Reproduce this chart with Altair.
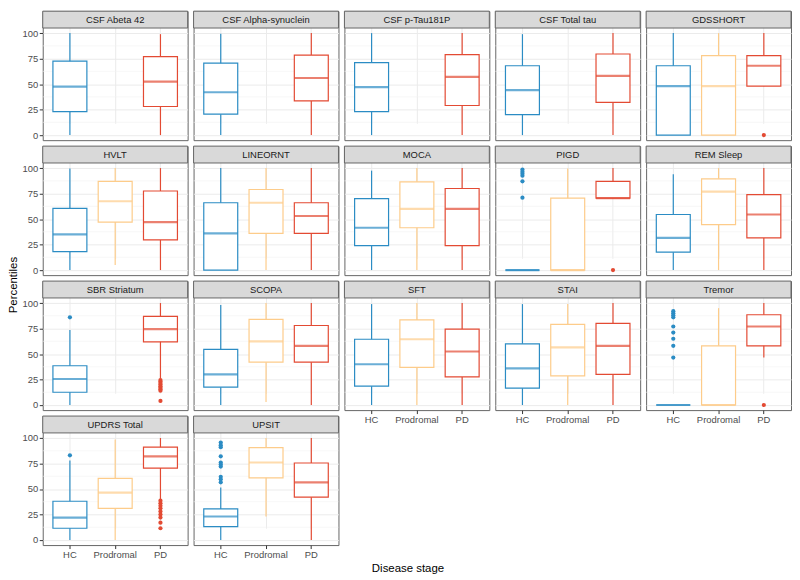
import altair as alt
import pandas as pd

panels = ["CSF Abeta 42", "CSF Alpha-synuclein", "CSF p-Tau181P", "CSF Total tau", "GDSSHORT",
          "HVLT", "LINEORNT", "MOCA", "PIGD", "REM Sleep",
          "SBR Striatum", "SCOPA", "SFT", "STAI", "Tremor",
          "UPDRS Total", "UPSIT"]
groups = ["HC", "Prodromal", "PD"]
colors = ["#2b8cc4", "#fdcc8a", "#e34a33"]

# (lower whisker, Q1, median, Q3, upper whisker)
hc_stats = {
    "CSF Abeta 42": (0, 23, 47.5, 72.5, 100),
    "CSF Alpha-synuclein": (0, 20.5, 42, 70.5, 99.5),
    "CSF p-Tau181P": (0, 23, 47, 71, 100),
    "CSF Total tau": (0, 20, 44, 68, 99),
    "GDSSHORT": (0, 0, 48, 68, 100),
    "HVLT": (0, 18, 35, 60.5, 99.5),
    "LINEORNT": (0, 0, 36, 66, 100),
    "MOCA": (0, 24, 41.5, 70, 97.5),
    "PIGD": (0, 0, 0, 0, 0),
    "REM Sleep": (0, 17.5, 31.5, 54.5, 94),
    "SBR Striatum": (0, 12.5, 25.5, 38.5, 73.5),
    "SCOPA": (0, 17.5, 30, 54.5, 98),
    "SFT": (0, 18.5, 40, 64.5, 99),
    "STAI": (0, 16.5, 36, 60, 99),
    "Tremor": (0, 0, 0, 0, 0),
    "UPDRS Total": (0, 11.5, 22, 38, 78),
    "UPSIT": (0, 13, 23, 30.5, 51.5),
}
prodromal_stats = {
    "GDSSHORT": (0, 0, 48, 78, 100),
    "HVLT": (5, 47, 67.5, 87, 100),
    "LINEORNT": (0, 36, 66, 79, 100),
    "MOCA": (0, 41.5, 60, 86.5, 100),
    "PIGD": (0, 0, 0, 70.5, 99.5),
    "REM Sleep": (0, 44.5, 77, 89.5, 100),
    "SCOPA": (3, 42, 62.5, 84, 100),
    "SFT": (0, 37, 64.5, 83.5, 100),
    "STAI": (0, 28.5, 56.5, 79, 99),
    "Tremor": (0, 0, 0, 58, 95),
    "UPDRS Total": (0, 31, 46.5, 60.5, 98.5),
    "UPSIT": (23, 61, 76, 90.5, 100),
}
pd_stats = {
    "CSF Abeta 42": (0, 28, 52.5, 77, 99),
    "CSF Alpha-synuclein": (0, 33.5, 56, 78.5, 100),
    "CSF p-Tau181P": (0, 29, 57, 79, 100),
    "CSF Total tau": (0, 32, 58, 79.5, 100),
    "GDSSHORT": (48, 48, 68, 78, 100),
    "HVLT": (0, 29.5, 47, 77.5, 100),
    "LINEORNT": (0, 36, 53, 66, 100),
    "MOCA": (0, 24, 60, 80, 100),
    "PIGD": (70.5, 70.5, 70.5, 87, 100),
    "REM Sleep": (0, 31.5, 54.5, 74, 100),
    "SBR Striatum": (26, 62, 74.5, 87, 100),
    "SCOPA": (0, 42, 58, 78, 100),
    "SFT": (0, 27.5, 52.5, 74.5, 100),
    "STAI": (0, 30, 58, 80, 100),
    "Tremor": (46.5, 58, 77, 88.5, 100),
    "UPDRS Total": (40, 70.5, 82, 91, 100),
    "UPSIT": (0, 42, 56.5, 75.5, 100),
}
hc_outliers = {
    "PIGD": [98.5, 96.5, 94.5, 92.5, 87, 71],
    "SBR Striatum": [86],
    "Tremor": [92, 90, 88, 86, 77, 71, 65, 58, 46.5],
    "UPDRS Total": [83],
    "UPSIT": [95.5, 93, 91, 82, 76, 74, 72, 62, 59.5, 56.5],
}
pd_outliers = {
    "GDSSHORT": [0],
    "PIGD": [0],
    "SBR Striatum": [24.5, 23, 21.5, 20, 18.5, 17, 15.5, 14, 4],
    "Tremor": [0],
    "UPDRS Total": [38.5, 36, 33.5, 31, 28, 25, 22, 17, 11.5],
}
y_breaks = [0, 25, 50, 75, 100]
minor_breaks = [12.5, 37.5, 62.5, 87.5]

W = 146
STRIP = 17
PLOT = 113
H = STRIP + PLOT
FONT = "Liberation Sans"


def make_panel(idx, name):
    show_x = idx >= 12
    show_y = idx % 5 == 0
    rows = []
    for g, st in zip(groups, [hc_stats, prodromal_stats, pd_stats]):
        if name in st:
            lo, q1, med, q3, hi = st[name]
            rows.append(dict(group=g, lo=lo, q1=q1, med=med, q3=q3, hi=hi))
    box_df = pd.DataFrame(rows)
    out_rows = []
    for g, od in zip(["HC", "PD"], [hc_outliers, pd_outliers]):
        for v in od.get(name, []):
            out_rows.append(dict(group=g, val=v))
    out_df = pd.DataFrame(out_rows if out_rows else [dict(group="HC", val=None)])

    xscale = alt.Scale(domain=groups, paddingInner=0.25, paddingOuter=0.225)
    xaxis = alt.Axis(title=None, labels=show_x, ticks=show_x, domain=False, grid=True,
                     gridColor="#EBEBEB", gridWidth=1, bandPosition=0.5, tickColor="#333333",
                     tickSize=3.5, labelPadding=1.5, labelColor="#4D4D4D", labelFontSize=9.5,
                     labelAngle=0, labelFont=FONT)
    yscale = alt.Scale(domain=[-5, 105], nice=False, zero=False, range=[H, STRIP])
    yaxis = alt.Axis(title=None, values=y_breaks, labels=show_y, ticks=show_y, domain=False,
                     grid=True, gridColor="#EBEBEB", gridWidth=1, tickColor="#333333",
                     tickSize=3.5, labelPadding=1.5, labelColor="#4D4D4D", labelFontSize=9.5,
                     labelFont=FONT)
    X = lambda: alt.X("group:N", scale=xscale, axis=xaxis)
    cscale = alt.Scale(domain=groups, range=colors)

    minor = alt.Chart(pd.DataFrame({"v": minor_breaks})).mark_rule(
        color="#F2F2F2", strokeWidth=0.6).encode(
        y=alt.Y("v:Q", scale=yscale, axis=yaxis))
    base = alt.Chart(box_df)
    whisk = base.mark_rule(strokeWidth=1.2).encode(
        x=X(), y=alt.Y("lo:Q", scale=yscale, axis=yaxis), y2="hi:Q",
        color=alt.Color("group:N", scale=cscale, legend=None))
    box = base.mark_bar(fill="white", strokeWidth=1.2).encode(
        x=X(), y=alt.Y("q1:Q", scale=yscale, axis=yaxis), y2="q3:Q",
        stroke=alt.Stroke("group:N", scale=cscale, legend=None))
    med = base.mark_tick(thickness=2.2, size=W / 3.2 * 0.75).encode(
        x=X(), y=alt.Y("med:Q", scale=yscale, axis=yaxis),
        color=alt.Color("group:N", scale=cscale, legend=None))
    outs = alt.Chart(out_df).mark_circle(size=18, opacity=1).encode(
        x=X(), y=alt.Y("val:Q", scale=yscale, axis=yaxis),
        color=alt.Color("group:N", scale=cscale, legend=None))
    sdf = pd.DataFrame({"name": [name]})
    strip = alt.Chart(sdf).mark_rect(fill="#D9D9D9", stroke="#666666", strokeWidth=1).encode(
        x=alt.value(0), x2=alt.value(W), y=alt.value(0), y2=alt.value(STRIP))
    stext = alt.Chart(sdf).mark_text(fontSize=9.5, color="#1A1A1A", font=FONT,
                                     fontWeight="normal", baseline="middle").encode(
        x=alt.value(W / 2), y=alt.value(STRIP / 2 + 0.5), text="name:N")
    return alt.layer(minor, whisk, box, med, outs, strip, stext).properties(width=W, height=H)


charts = [make_panel(i, n) for i, n in enumerate(panels)]
grid = alt.concat(*charts, columns=5, spacing={"row": 6, "column": 6}, bounds="flush").properties(
    title=alt.TitleParams("Percentiles", orient="left", anchor="middle", fontSize=11.5,
                          fontWeight="normal", font=FONT, color="#000000", offset=2))
chart = alt.vconcat(grid).properties(
    title=alt.TitleParams("Disease stage", orient="bottom", anchor="middle", fontSize=11.5,
                          fontWeight="normal", font=FONT, color="#000000", offset=3, dx=8),
    padding={"left": 0, "top": 0, "right": 0, "bottom": 0},
    background="white",
).configure_view(stroke="#666666", strokeWidth=1)

chart.save("out.html", embed_options={"renderer": "svg", "actions": False})
